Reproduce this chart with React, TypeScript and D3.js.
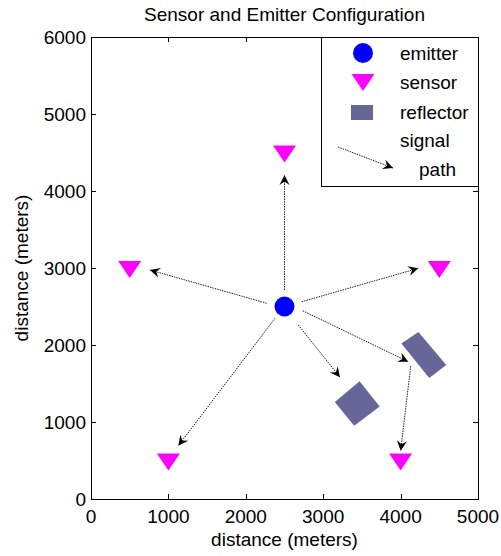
import React, { useEffect, useRef } from 'react';
import * as d3 from 'd3';

// axis ticks (meters)
const xTicks = [0, 1000, 2000, 3000, 4000, 5000];
const yTicks = [0, 1000, 2000, 3000, 4000, 5000, 6000];

// emitter position
const emitter = [{ x: 2500, y: 2500 }];

// sensor positions
const sensors = [
  { x: 500, y: 3000 },
  { x: 1000, y: 500 },
  { x: 2500, y: 4500 },
  { x: 4000, y: 500 },
  { x: 4500, y: 3000 },
];

// reflector outlines (corner points, meters)
const reflectors = [
  [[3150, 1260], [3470, 1530], [3730, 1200], [3400, 950]],
  [[4010, 2020], [4230, 2170], [4590, 1740], [4370, 1570]],
];

// signal paths (start -> end, meters)
const signalPaths = [
  { x1: 2500, y1: 2714, x2: 2500, y2: 4208 },
  { x1: 2270, y1: 2542, x2: 762, y2: 2974 },
  { x1: 2722, y1: 2562, x2: 4229, y2: 2996 },
  { x1: 2377, y1: 2347, x2: 1128, y2: 692 },
  { x1: 2678, y1: 2260, x2: 3217, y2: 1581 },
  { x1: 2735, y1: 2445, x2: 4099, y2: 1783 },
  { x1: 4131, y1: 1727, x2: 4001, y2: 627 },
];

const legendItems = ['emitter', 'sensor', 'reflector'];

const FONT = '"Liberation Sans", Arial, sans-serif';

const App: React.FC = () => {
  const svgRef = useRef<SVGSVGElement>(null);

  useEffect(() => {
    if (!svgRef.current) return;
    const svg = d3.select(svgRef.current);
    svg.selectAll('*').remove();

    const left = 91, right = 478, top = 37, bottom = 499;

    const x = d3.scaleLinear().domain([0, 5000]).range([left, right]);
    const y = d3.scaleLinear().domain([0, 6000]).range([bottom, top]);

    // arrowhead marker
    svg.append('defs')
      .append('marker')
      .attr('id', 'arrow')
      .attr('viewBox', '-11 -6 12 12')
      .attr('refX', 0)
      .attr('refY', 0)
      .attr('markerWidth', 12)
      .attr('markerHeight', 12)
      .attr('markerUnits', 'userSpaceOnUse')
      .attr('orient', 'auto')
      .append('path')
      .attr('d', 'M0,0 L-10,-5 L-6.5,0 L-10,5 Z')
      .attr('fill', '#000');

    // frame background
    svg.append('rect')
      .attr('x', left).attr('y', top)
      .attr('width', right - left).attr('height', bottom - top)
      .attr('fill', '#fff');

    // ticks inward on all four sides
    const g = svg.append('g').attr('stroke', '#000').attr('stroke-width', 1);
    xTicks.forEach(t => {
      const px = Math.round(x(t)) + 0.5;
      g.append('line').attr('x1', px).attr('x2', px).attr('y1', bottom).attr('y2', bottom - 5);
      g.append('line').attr('x1', px).attr('x2', px).attr('y1', top).attr('y2', top + 5);
    });
    yTicks.forEach(t => {
      const py = Math.round(y(t)) + 0.5;
      g.append('line').attr('x1', left).attr('x2', left + 5).attr('y1', py).attr('y2', py);
      g.append('line').attr('x1', right).attr('x2', right - 5).attr('y1', py).attr('y2', py);
    });

    // tick labels
    svg.append('g')
      .selectAll('text')
      .data(xTicks)
      .join('text')
      .attr('x', d => x(d))
      .attr('y', 523)
      .attr('text-anchor', 'middle')
      .style('font-family', FONT)
      .style('font-size', '19px')
      .attr('fill', '#000')
      .text(d => d);

    svg.append('g')
      .selectAll('text')
      .data(yTicks)
      .join('text')
      .attr('x', left - 5)
      .attr('y', d => y(d))
      .attr('dy', '0.35em')
      .attr('text-anchor', 'end')
      .style('font-family', FONT)
      .style('font-size', '19px')
      .attr('fill', '#000')
      .text(d => d);

    // axis titles
    svg.append('text')
      .attr('x', (left + right) / 2)
      .attr('y', 546)
      .attr('text-anchor', 'middle')
      .style('font-family', FONT)
      .style('font-size', '19px')
      .text('distance (meters)');

    svg.append('text')
      .attr('transform', `translate(28,${(top + bottom) / 2}) rotate(-90)`)
      .attr('text-anchor', 'middle')
      .style('font-family', FONT)
      .style('font-size', '19px')
      .text('distance (meters)');

    svg.append('text')
      .attr('x', (left + right) / 2)
      .attr('y', 21)
      .attr('text-anchor', 'middle')
      .style('font-family', FONT)
      .style('font-size', '19px')
      .text('Sensor and Emitter Configuration');

    // reflectors
    svg.append('g')
      .selectAll('path')
      .data(reflectors)
      .join('path')
      .attr('d', d => 'M' + d.map(p => `${x(p[0])},${y(p[1])}`).join('L') + 'Z')
      .attr('fill', '#666699');

    // signal paths
    svg.append('g')
      .selectAll('line')
      .data(signalPaths)
      .join('line')
      .attr('x1', d => x(d.x1))
      .attr('y1', d => y(d.y1))
      .attr('x2', d => x(d.x2))
      .attr('y2', d => y(d.y2))
      .attr('stroke', '#222')
      .attr('stroke-width', 1)
      .attr('stroke-dasharray', '1.5,1')
      .attr('marker-end', 'url(#arrow)');

    const tri = 'M-11.5,-8 L11.5,-8 L0,9 Z';

    // sensors
    svg.append('g')
      .selectAll('path')
      .data(sensors)
      .join('path')
      .attr('transform', d => `translate(${x(d.x)},${y(d.y) + 1})`)
      .attr('d', tri)
      .attr('fill', '#ff00ff');

    // emitter
    svg.append('g')
      .selectAll('circle')
      .data(emitter)
      .join('circle')
      .attr('cx', d => x(d.x))
      .attr('cy', d => y(d.y))
      .attr('r', 10)
      .attr('fill', '#0000ff');

    // frame
    svg.append('rect')
      .attr('x', left + 0.5).attr('y', top + 0.5)
      .attr('width', right - left).attr('height', bottom - top)
      .attr('fill', 'none')
      .attr('stroke', '#000');

    // legend
    const lg = svg.append('g');
    lg.append('rect')
      .attr('x', 321.5).attr('y', top + 0.5)
      .attr('width', right - 321).attr('height', 149)
      .attr('fill', '#fff')
      .attr('stroke', '#000');

    const rowY = [53, 82, 112];
    legendItems.forEach((name, i) => {
      const cy = rowY[i];
      if (name === 'emitter') {
        lg.append('circle').attr('cx', 363).attr('cy', cy).attr('r', 10).attr('fill', '#0000ff');
      } else if (name === 'sensor') {
        lg.append('path').attr('transform', `translate(363,${cy})`).attr('d', tri).attr('fill', '#ff00ff');
      } else {
        lg.append('rect').attr('x', 351).attr('y', cy - 7).attr('width', 22).attr('height', 15).attr('fill', '#666699');
      }
      lg.append('text')
        .attr('x', 400)
        .attr('y', cy + 7)
        .style('font-family', FONT)
        .style('font-size', '19px')
        .text(name);
    });

    lg.append('line')
      .attr('x1', 338).attr('y1', 147)
      .attr('x2', 393).attr('y2', 168)
      .attr('stroke', '#222')
      .attr('stroke-width', 1)
      .attr('stroke-dasharray', '1.5,1')
      .attr('marker-end', 'url(#arrow)');
    lg.append('text')
      .attr('x', 400).attr('y', 147)
      .style('font-family', FONT)
      .style('font-size', '19px')
      .text('signal');
    lg.append('text')
      .attr('x', 419).attr('y', 176)
      .style('font-family', FONT)
      .style('font-size', '19px')
      .text('path');
  }, []);

  return (
    <div style={{ position: 'absolute', left: 0, top: 0 }}>
      <svg ref={svgRef} width={501} height={556} style={{ display: 'block', background: '#fff' }} />
    </div>
  );
};

export default App;
